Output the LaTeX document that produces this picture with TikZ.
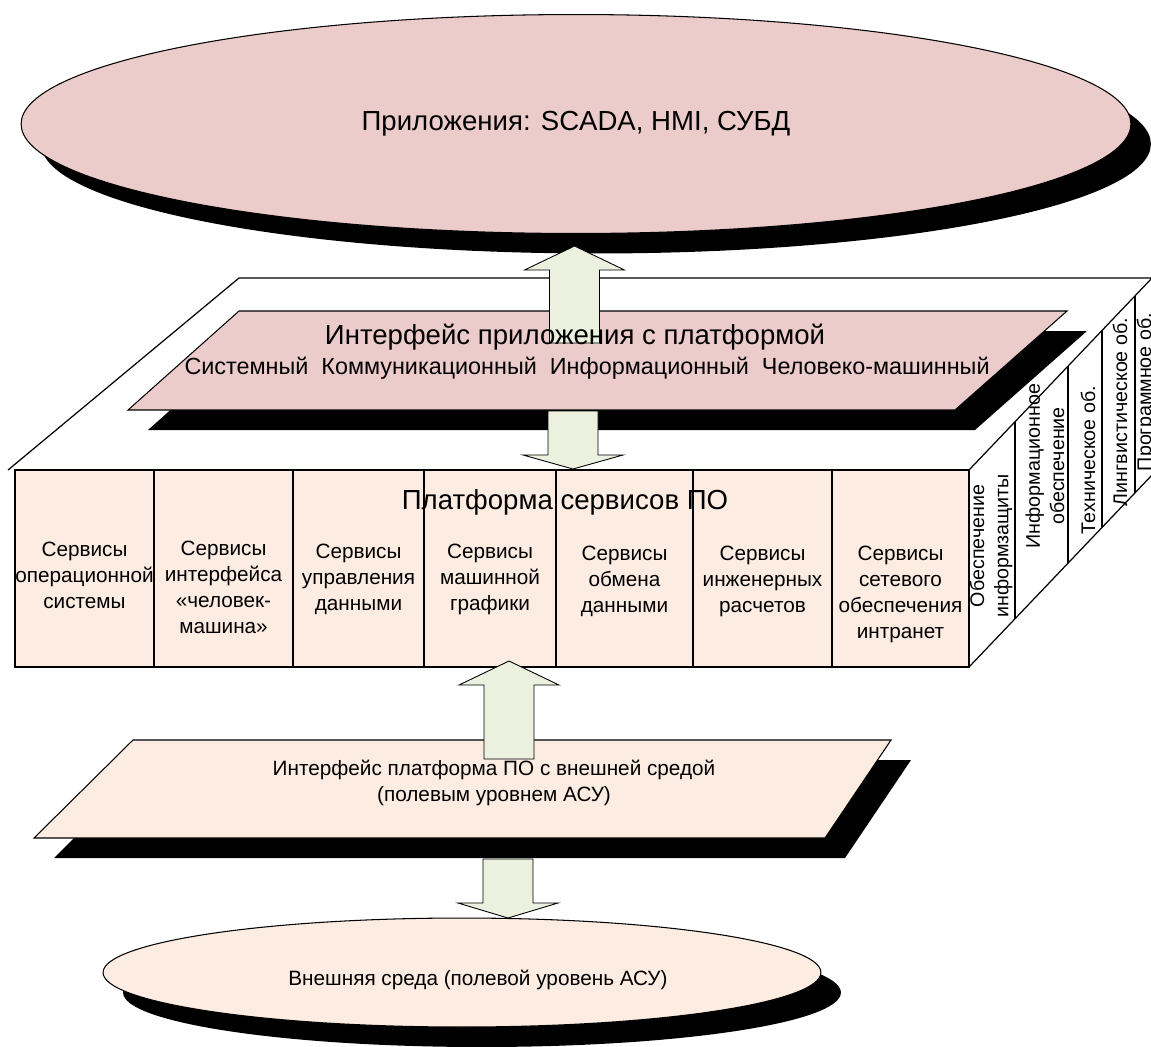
\documentclass[tikz,border=0pt]{standalone}
\usepackage{fontspec}
\setmainfont{Liberation Sans}
\usetikzlibrary{shapes.geometric,shadows}
\definecolor{apppink}{RGB}{236,204,203}
\definecolor{svcpeach}{RGB}{252,236,226}
\definecolor{arrowgreen}{RGB}{235,241,222}
\tikzset{
  blackshadow/.style = {drop shadow={shadow xshift=0.4cm, shadow yshift=-0.4cm, opacity=1, fill=black}},
  layerell/.style = {ellipse, draw=black, line width=0.6pt, inner sep=0pt, blackshadow},
  plane/.style = {draw=black, line width=0.6pt},
  boxline/.style = {draw=black, line width=0.7pt},
  cellbox/.style = {boxline, fill=svcpeach},
  celltext/.style = {align=center, inner sep=0pt, font=\fontsize{11.8}{14.8}\selectfont},
  sidetext/.style = {align=center, inner sep=0pt, rotate=90, font=\fontsize{11.2}{13.8}\selectfont},
  bigtext/.style = {inner sep=0pt, font=\fontsize{15.7}{18}\selectfont},
  flowarrow/.style = {draw=black, line width=0.5pt, fill=arrowgreen},
}
% centre x, tail y, head base y, tip y
\newcommand{\blockarrow}[4]{%
  \draw[flowarrow] (#1-25,#2) -- (#1-25,#3) -- (#1-50,#3) -- (#1,#4)
    -- (#1+50,#3) -- (#1+25,#3) -- (#1+25,#2) -- cycle;}

\begin{document}
\begin{tikzpicture}[x=0.02cm, y=-0.02cm]
\useasboundingbox (0,0) rectangle (1151,1046);

% applications
\node[layerell, fill=apppink, minimum width=22.2cm, minimum height=4.38cm, bigtext] (apps) at (576,124) {Приложения: SCADA, HMI, СУБД};

% platform box
\draw[boxline] (8,470) -- (239,278) -- (1152,278);
\draw[boxline] (969,470) -- (1152,278);
\draw[boxline] (969,667) -- (1152,475);
\foreach \sx in {1015,1068,1102,1135}
  \draw[boxline] (\sx,{470-(\sx-969)*1.0492}) -- (\sx,{667-(\sx-969)*1.0492});
\foreach \xa/\xb in {15/154,154/293,293/424,424/556,556/693,693/832,832/969}
  \draw[cellbox] (\xa,470) rectangle (\xb,667);

\node[bigtext] (platform) at (565,502) {Платформа сервисов ПО};
\node[celltext] (ossvc) at (84.5,575) {Сервисы\\операционной\\системы};
\node[celltext] (hmisvc) at (223.5,587.5) {Сервисы\\интерфейса\\«человек-\\машина»};
\node[celltext] (datasvc) at (358.5,579) {Сервисы\\управления\\данными};
\node[celltext] (gfxsvc) at (490,579) {Сервисы\\машинной\\графики};
\node[celltext] (xchgsvc) at (624.5,581) {Сервисы\\обмена\\данными};
\node[celltext] (engsvc) at (762.5,581) {Сервисы\\инженерных\\расчетов};
\node[celltext] (netsvc) at (900.5,594) {Сервисы\\сетевого\\обеспечения\\интранет};

\node[sidetext] (secsup) at (991,546) {Обеспечение\\информзащиты};
\node[sidetext] (infosup) at (1045,466) {Информационное\\обеспечение};
\node[sidetext] (techsup) at (1088,460) {Техническое об.};
\node[sidetext] (lingsup) at (1120,412) {Лингвистическое об.};
\node[sidetext] (softsup) at (1146,392) {Программное об.};

% application interface
\draw[plane, fill=apppink, blackshadow] (239,311) -- (1067,311) -- (955,410) -- (128,410) -- cycle;
\blockarrow{574.5}{343}{270}{246}
\blockarrow{573}{411}{455}{469}
\node[bigtext] (api) at (575,337) {Интерфейс приложения с платформой};
\node[inner sep=0pt, font=\fontsize{13.3}{16}\selectfont] (apikinds) at (587,368)
  {Системный\ \ Коммуникационный\ \ Информационный\ \ Человеко-машинный};

% field level
\draw[plane, fill=svcpeach, blackshadow] (133,740) -- (891,740) -- (825,838) -- (34,838) -- cycle;
\node[layerell, fill=svcpeach, minimum width=14.36cm, minimum height=2.18cm] (field) at (462,972.5) {};
\blockarrow{509}{759}{685}{661}
\blockarrow{508}{859}{903}{918}
\node[celltext] (fieldapi) at (494,783) {Интерфейс платформа ПО с внешней средой\\(полевым уровнем АСУ)};
\node[celltext] (fieldtext) at (478,980) {Внешняя среда (полевой уровень АСУ)};
\end{tikzpicture}
\end{document}
